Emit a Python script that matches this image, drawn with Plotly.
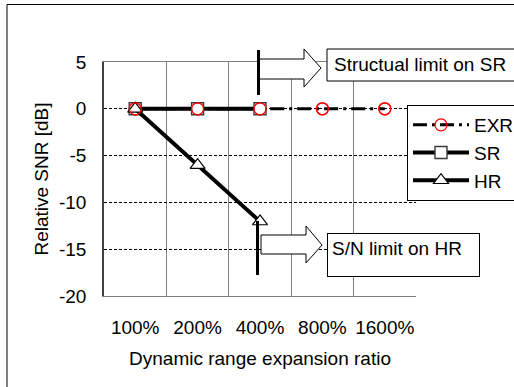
import plotly.graph_objects as go

# ---- data ----
categories = ["100%", "200%", "400%", "800%", "1600%"]
exr_snr = [0, 0, 0, 0, 0]
sr_categories = ["100%", "200%", "400%"]
sr_snr = [0, 0, 0]
hr_categories = ["100%", "200%", "400%"]
hr_snr = [0, -6.02, -12.04]
y_ticks = [5, 0, -5, -10, -15, -20]
y_tick_labels = ["5", "0", "-5", "-10", "-15", "-20"]

# ---- geometry helpers (pixel -> paper) ----
W, H = 514, 387
L, R, T, B = 104, 416, 62, 296


def px(x):
    return (x - L) / (R - L)


def py(y):
    return (B - y) / (B - T)


FONT = "Liberation Sans, Arial, sans-serif"
FS = 19

fig = go.Figure()
fig.add_trace(go.Scatter(
    x=categories, y=exr_snr, name="EXR", mode="lines+markers", legendgroup="exr",
    line=dict(color="black", width=3, dash="14px,5px,3px,5px"),
    marker=dict(symbol="circle-open", size=12, color="red", line=dict(width=1.3, color="red")),
))
fig.add_trace(go.Scatter(
    x=sr_categories, y=sr_snr, name="SR", mode="lines+markers", legendgroup="sr",
    line=dict(color="black", width=4),
    marker=dict(symbol="square", size=12, color="white", line=dict(width=1.4, color="#3a3a3a")),
))
fig.add_trace(go.Scatter(
    x=hr_categories, y=hr_snr, name="HR", mode="lines+markers", legendgroup="hr",
    line=dict(color="black", width=4),
    marker=dict(symbol="triangle-up", size=13, color="white", line=dict(width=1.2, color="black")),
))
# EXR markers drawn on top of the other series
fig.add_trace(go.Scatter(
    x=categories, y=exr_snr, mode="markers", showlegend=False, hoverinfo="skip",
    marker=dict(symbol="circle-open", size=12, color="red", line=dict(width=1.3, color="red")),
))

shapes = []
# outer chart border (cropped on right and bottom)
shapes.append(dict(type="rect", xref="paper", yref="paper",
                   x0=px(7), x1=px(540), y0=py(4.5), y1=py(420),
                   line=dict(color="black", width=1), fillcolor="rgba(0,0,0,0)", layer="below"))


def block_arrow(x0, xh, xt, sh_top, sh_bot, hd_top, hd_bot, yc):
    pts = [(x0, sh_top), (xh, sh_top), (xh, hd_top), (xt, yc), (xh, hd_bot), (xh, sh_bot), (x0, sh_bot)]
    d = "M " + " L ".join(f"{px(a):.5f},{py(b):.5f}" for a, b in pts) + " Z"
    return dict(type="path", xref="paper", yref="paper", path=d,
                line=dict(color="black", width=1), fillcolor="white", layer="above")


shapes.append(block_arrow(259, 304, 321, 59, 79, 49, 87, 68))
shapes.append(block_arrow(261, 306, 322, 235, 254, 226, 263, 245))
# thick vertical limit markers
shapes.append(dict(type="line", xref="paper", yref="paper", x0=px(258.5), x1=px(258.5),
                   y0=py(50), y1=py(95), line=dict(color="black", width=3), layer="above"))
shapes.append(dict(type="line", xref="paper", yref="paper", x0=px(257.5), x1=px(257.5),
                   y0=py(221), y1=py(275), line=dict(color="black", width=3), layer="above"))
# box of the structural-limit label (runs past the right edge, as in the original)
shapes.append(dict(type="rect", xref="paper", yref="paper",
                   x0=px(327), x1=px(540), y0=py(49), y1=py(81),
                   line=dict(color="black", width=1), fillcolor="white", layer="above"))

annotations = [
    dict(text="Structual limit on SR", xref="paper", yref="paper", x=px(332), y=py(65),
         xanchor="left", yanchor="middle", showarrow=False, align="left",
         font=dict(family=FONT, size=FS, color="black")),
    dict(text="S/N limit on HR", xref="paper", yref="paper", x=px(327), y=py(233),
         xanchor="left", yanchor="top", showarrow=False, align="left", valign="top",
         width=143, height=34,
         font=dict(family=FONT, size=FS, color="black"),
         bordercolor="black", borderwidth=1, borderpad=4, bgcolor="white"),
]

fig.update_layout(
    width=W, height=H,
    margin=dict(l=L, r=W - R, t=T, b=H - B, autoexpand=False),
    paper_bgcolor="white", plot_bgcolor="white",
    font=dict(family=FONT, size=FS, color="black"),
    showlegend=True,
    legend=dict(x=px(407), y=py(105), xanchor="left", yanchor="top",
                bordercolor="black", borderwidth=1, bgcolor="white",
                itemwidth=56, tracegroupgap=2, traceorder="normal",
                entrywidth=120, entrywidthmode="pixels",
                font=dict(family=FONT, size=FS, color="black")),
    xaxis=dict(type="category", categoryorder="array", categoryarray=categories,
               range=[-0.5, 4.5], tickson="boundaries", tickangle=0,
               showgrid=True, gridcolor="#808080", gridwidth=1,
               showline=True, linecolor="#808080", linewidth=1, mirror=True,
               ticks="", ticklabelstandoff=14,
               tickfont=dict(size=FS), zeroline=False,
               title=dict(text="Dynamic range expansion ratio", font=dict(size=FS), standoff=14)),
    yaxis=dict(range=[-20, 5], tickmode="array", tickvals=y_ticks, ticktext=y_tick_labels,
               showgrid=True, gridcolor="black", gridwidth=1, griddash="3px,2px",
               showline=True, linecolor="#404040", linewidth=1.5,
               ticks="outside", ticklen=12, tickcolor="rgba(0,0,0,0)",
               tickfont=dict(size=FS), zeroline=False,
               title=dict(text="Relative SNR [dB]", font=dict(size=FS), standoff=5)),
    shapes=shapes,
    annotations=annotations,
)

fig.write_html("out.html", config={"displayModeBar": False})
# remove the default page margin so the figure sits at the window's top-left corner
with open("out.html", "r", encoding="utf-8") as f:
    html = f.read()
html = html.replace("<head>", "<head><style>html,body{margin:0;padding:0;overflow:hidden;}</style>", 1)
with open("out.html", "w", encoding="utf-8") as f:
    f.write(html)
